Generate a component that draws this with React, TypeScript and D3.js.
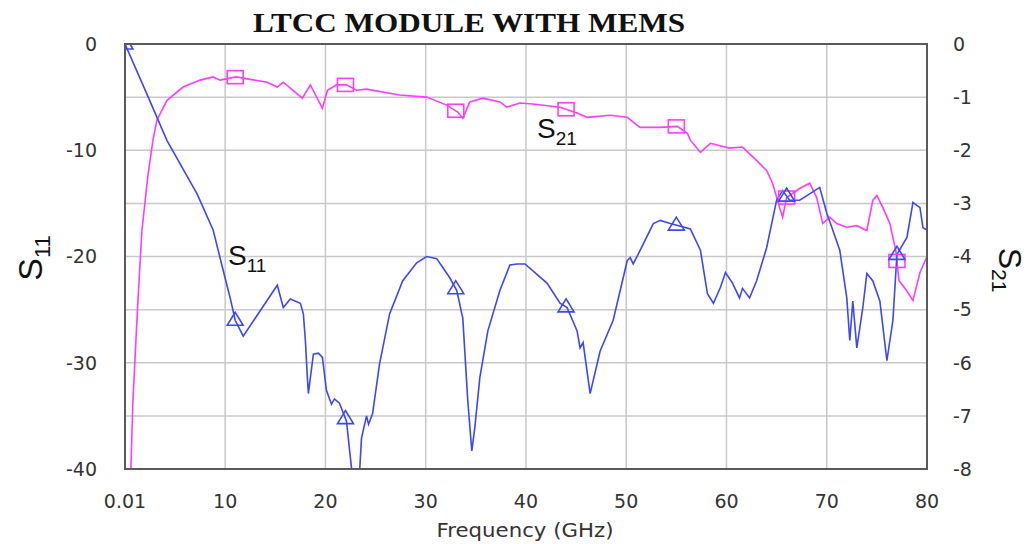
import * as d3 from 'd3';

// frequency axis (GHz)
const xTicks = [0.01, 10, 20, 30, 40, 50, 60, 70, 80];
const leftTicks = [0, -10, -20, -30, -40];
const rightTicks = [0, -1, -2, -3, -4, -5, -6, -7, -8];

// S11 (left axis, dB)
const s11Freq = [0.01, 2.1, 4.2, 7.2, 8.8, 9.8, 10.5, 11.0, 11.8, 15.2, 15.8, 16.5, 17.5, 17.8, 18.0, 18.2, 18.3, 18.5, 18.8, 19.3, 19.7, 20.1, 20.6, 20.9, 21.4, 22.1, 22.6, 22.9, 23.3, 23.6, 24.1, 24.3, 24.7, 25.4, 26.4, 27.7, 29.1, 30.1, 31.1, 32.4, 33.1, 33.7, 34.2, 34.6, 34.9, 35.4, 36.2, 37.4, 38.4, 39.1, 39.9, 42.1, 43.4, 44.1, 45.1, 45.4, 45.7, 46.4, 47.4, 48.7, 50.1, 50.4, 50.7, 51.4, 52.7, 53.4, 54.4, 56.4, 57.4, 58.1, 58.7, 59.4, 59.9, 60.6, 61.3, 61.6, 62.3, 63.0, 64.0, 65.0, 65.6, 66.3, 67.3, 68.3, 69.3, 70.0, 70.6, 71.3, 72.0, 72.3, 72.6, 73.0, 73.6, 74.0, 74.6, 75.3, 76.0, 76.6, 77.0, 78.0, 78.6, 79.3, 79.6, 80.0];
const s11Val = [0, -4.5, -9.1, -14.1, -17.5, -21.3, -23.9, -26.0, -27.5, -22.7, -24.8, -24.0, -24.4, -25.4, -27.9, -31.4, -32.9, -31.4, -29.2, -29.1, -29.5, -32.6, -33.9, -33.4, -33.8, -35.5, -39.9, -42, -42, -37.1, -35.0, -35.8, -34.8, -30.1, -25.4, -22.3, -20.6, -20.0, -20.2, -22.0, -23.2, -25.8, -33.6, -38.3, -36.1, -31.4, -27.0, -23.2, -20.8, -20.7, -20.7, -22.5, -24.4, -24.8, -27.0, -28.6, -28.1, -32.9, -28.9, -26.0, -20.4, -20.1, -20.7, -19.4, -16.9, -16.6, -16.9, -17.4, -19.4, -23.5, -24.4, -22.9, -21.5, -22.5, -23.9, -23.0, -23.9, -22.3, -19.2, -14.7, -13.8, -14.7, -14.7, -14.1, -13.5, -15.9, -17.5, -19.4, -23.9, -27.9, -24.2, -28.6, -24.8, -21.6, -22.3, -24.2, -29.8, -26.0, -19.8, -18.2, -14.9, -15.4, -17.3, -17.5];

// S21 (right axis, dB)
const s21Freq = [0.55, 0.8, 1.3, 1.7, 2.3, 2.8, 3.2, 4.2, 5.8, 7.5, 8.8, 9.5, 11.1, 14.2, 15.2, 15.8, 16.5, 17.7, 18.5, 19.7, 20.2, 21.1, 22.1, 23.1, 24.1, 27.4, 30.1, 32.1, 33.2, 33.7, 34.4, 35.7, 37.4, 38.1, 39.4, 40.7, 43.4, 45.1, 46.1, 48.4, 50.1, 51.1, 51.4, 53.4, 55.1, 56.1, 56.4, 57.4, 58.4, 60.3, 61.6, 63.0, 64.0, 64.6, 65.3, 65.6, 66.0, 67.3, 68.3, 69.0, 69.6, 70.3, 71.0, 72.0, 73.0, 74.0, 74.6, 75.0, 75.6, 76.3, 76.9, 77.2, 78.0, 78.6, 79.3, 80.0];
const s21Val = [-8.3, -6.72, -4.83, -3.51, -2.47, -1.81, -1.43, -1.06, -0.81, -0.68, -0.62, -0.68, -0.62, -0.72, -0.81, -0.72, -0.83, -1.02, -0.77, -1.21, -0.87, -0.77, -0.77, -0.87, -0.85, -0.96, -1.0, -1.15, -1.28, -1.40, -1.09, -1.02, -1.09, -1.19, -1.11, -1.13, -1.19, -1.30, -1.38, -1.34, -1.38, -1.53, -1.57, -1.57, -1.55, -1.68, -1.81, -2.04, -1.87, -1.96, -1.94, -2.19, -2.38, -2.62, -3.08, -3.26, -2.89, -2.72, -2.62, -2.89, -3.38, -3.26, -3.38, -3.45, -3.42, -3.51, -2.94, -2.85, -3.08, -3.38, -3.9, -4.45, -4.65, -4.83, -4.3, -4.0];

const s11Markers = [0.01, 11, 22, 33, 44, 55, 66, 77];
const s21Markers = [11, 22, 33, 44, 55, 66, 77];

const BLUE = '#3c48f0';
const PINK = '#ff3cff';
const sans = '"Liberation Sans", Arial, sans-serif';
const tickFont = '"DejaVu Sans", sans-serif';

const x = d3.scaleLinear().domain([0.01, 80]).range([125, 927]);
const yL = d3.scaleLinear().domain([-40, 0]).range([469, 44]);
const yR = d3.scaleLinear().domain([-8, 0]).range([469, 44]);

function interp(fs: number[], vs: number[], f: number) {
  const i = d3.bisectLeft(fs, f);
  if (i <= 0) return vs[0];
  if (i >= fs.length) return vs[vs.length - 1];
  const t = (f - fs[i - 1]) / (fs[i] - fs[i - 1]);
  return vs[i - 1] + t * (vs[i] - vs[i - 1]);
}

export default function App() {
  const lineL = d3.line<number>().x((_, i) => x(s11Freq[i])).y(d => yL(d));
  const lineR = d3.line<number>().x((_, i) => x(s21Freq[i])).y(d => yR(d));
  const [x0, x1] = x.range();
  const [y1, y0] = yL.range();

  return (
    <svg width={1027} height={544} style={{ position: 'absolute', left: 0, top: 0, background: '#fff' }}>
      <defs>
        <clipPath id="plot">
          <rect x={x0} y={y0} width={x1 - x0} height={y1 - y0} />
        </clipPath>
      </defs>

      <text x={469} y={32} textAnchor="middle" fontFamily='"Liberation Serif", "Times New Roman", serif'
        fontWeight="bold" fontSize={27} textLength={432} lengthAdjust="spacingAndGlyphs" fill="#111">
        LTCC MODULE WITH MEMS
      </text>

      {/* grid */}
      {xTicks.map(t => (
        <line key={'gx' + t} x1={x(t)} x2={x(t)} y1={y0} y2={y1} stroke="#c8c8c8" strokeWidth={1.5} />
      ))}
      {rightTicks.map(t => (
        <line key={'gy' + t} x1={x0} x2={x1} y1={yR(t)} y2={yR(t)} stroke="#c8c8c8" strokeWidth={1.5} />
      ))}

      <g clipPath="url(#plot)">
        <path d={lineR(s21Val) || ''} fill="none" stroke={PINK} strokeWidth={1.6} />
        <path d={lineL(s11Val) || ''} fill="none" stroke={BLUE} strokeWidth={1.6} />
        {s21Markers.map(f => {
          const cx = x(f), cy = yR(interp(s21Freq, s21Val, f));
          return <rect key={'sq' + f} x={cx - 8} y={cy - 6.5} width={16} height={13} fill="none" stroke={PINK} strokeWidth={1.6} />;
        })}
        {s11Markers.map(f => {
          const cx = x(f), cy = yL(interp(s11Freq, s11Val, f));
          return <path key={'tr' + f} d={`M${cx},${cy - 8}L${cx - 8},${cy + 5}L${cx + 8},${cy + 5}Z`} fill="none" stroke={BLUE} strokeWidth={1.6} />;
        })}
      </g>

      <rect x={x0} y={y0} width={x1 - x0} height={y1 - y0} fill="none" stroke="#5a5a5a" strokeWidth={2} />

      {/* tick labels */}
      {leftTicks.map(t => (
        <text key={'lt' + t} x={97} y={yL(t)} dy="0.36em" textAnchor="end" fontFamily={tickFont} fontSize={19} fill="#333">{t}</text>
      ))}
      {rightTicks.map(t => (
        <text key={'rt' + t} x={953} y={yR(t)} dy="0.36em" textAnchor="start" fontFamily={tickFont} fontSize={19} fill="#333">{t}</text>
      ))}
      {xTicks.map(t => (
        <text key={'xt' + t} x={x(t)} y={508} textAnchor="middle" fontFamily={tickFont} fontSize={19} fill="#333">{t === 0.01 ? '0.01' : t}</text>
      ))}

      <text x={525} y={537} textAnchor="middle" fontFamily={tickFont} fontSize={19} fill="#333"
        textLength={177} lengthAdjust="spacingAndGlyphs">Frequency (GHz)</text>

      {/* axis titles */}
      <text transform="translate(42,258) rotate(-90)" textAnchor="middle" fontFamily={sans} fill="#111">
        <tspan fontSize={34}>S</tspan><tspan fontSize={22} dy={8}>11</tspan>
      </text>
      <text transform="translate(999,270) rotate(90)" textAnchor="middle" fontFamily={sans} fill="#111">
        <tspan fontSize={32}>S</tspan><tspan fontSize={21} dy={7}>21</tspan>
      </text>

      {/* curve annotations */}
      <text x={228} y={265} fontFamily={sans} fill="#111">
        <tspan fontSize={28}>S</tspan><tspan fontSize={19} dy={7}>11</tspan>
      </text>
      <text x={537} y={138} fontFamily={sans} fill="#111">
        <tspan fontSize={28}>S</tspan><tspan fontSize={19} dy={7}>21</tspan>
      </text>
    </svg>
  );
}
